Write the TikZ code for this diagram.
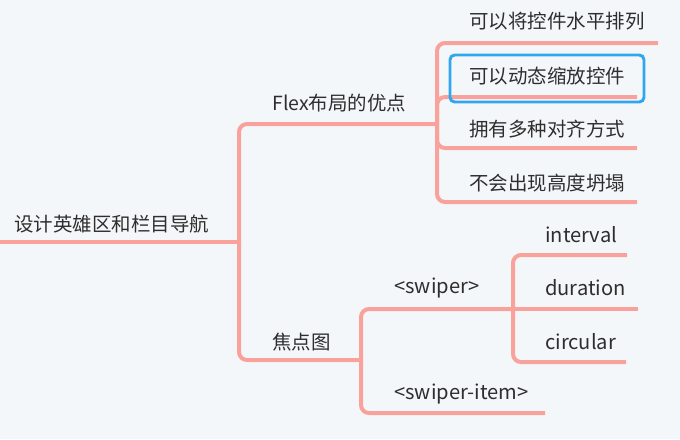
\documentclass[tikz,border=0pt]{standalone}
\usepackage{fontspec}
\setmainfont{Noto Sans CJK SC}
\begin{document}
\begin{tikzpicture}[x=0.75pt,y=-0.75pt,
  branch/.style={draw=linkc, line width=3pt, rounded corners=6pt},
  topic/.style={anchor=west, inner sep=0pt, text=textc, font=\fontsize{14.6}{17}\selectfont},
  latin/.style={topic, font=\fontsize{15.1}{18}\selectfont},
  highlight/.style={draw=selc, line width=2.2pt, rounded corners=3.5pt}]
\definecolor{bgc}{HTML}{F4F7F9}
\definecolor{linkc}{HTML}{F9A29B}
\definecolor{textc}{HTML}{2E2E2E}
\definecolor{selc}{HTML}{2EA7EE}
\fill[bgc] (0,0) rectangle (680,439);
\useasboundingbox (0,0) rectangle (680,439);

% junction points of the branches
\coordinate (rootStart) at (0,242);
\coordinate (rootEnd) at (239,242);
\coordinate (flexEnd) at (437,124);
\coordinate (focusEnd) at (361,360);
\coordinate (swEnd) at (513,309);
\coordinate (swiEnd) at (545,413);
\coordinate (f1End) at (658,43);
\coordinate (f2End) at (637,97);
\coordinate (f3End) at (637,148);
\coordinate (f4End) at (637,202);
\coordinate (s1End) at (627,255);
\coordinate (s2End) at (638,309);
\coordinate (s3End) at (626,362);

% connectors
\draw[branch] (rootStart) -- (rootEnd);
\draw[branch] (rootEnd) |- (flexEnd);
\draw[branch] (rootEnd) |- (focusEnd);
\draw[branch] (flexEnd) |- (f1End);
\draw[branch] (flexEnd) |- (f2End);
\draw[branch] (flexEnd) |- (f3End);
\draw[branch] (flexEnd) |- (f4End);
\draw[branch] (focusEnd) |- (swEnd);
\draw[branch] (focusEnd) |- (swiEnd);
\draw[branch] (swEnd) |- (s1End);
\draw[branch] (swEnd) -- (s2End);
\draw[branch] (swEnd) |- (s3End);

% topics
\node[topic] (root) at (14,224) {设计英雄区和栏目导航};
\node[topic] (flex) at (272,103) {Flex布局的优点};
\node[topic] (f1) at (469,21) {可以将控件水平排列};
\node[topic] (f2) at (469,76) {可以动态缩放控件};
\node[topic] (f3) at (469,129) {拥有多种对齐方式};
\node[topic] (f4) at (469,183) {不会出现高度坍塌};
\node[topic] (focus) at (272,342) {焦点图};
\node[latin] (swiper) at (394,288) {<swiper>};
\node[latin] (swiperitem) at (394,394) {<swiper-item>};
\node[latin] (s1) at (545,235) {interval};
\node[latin] (s2) at (545,288) {duration};
\node[latin] (s3) at (545,342) {circular};

% selection frame round the second Flex topic
\draw[highlight] (450,55) rectangle (644,102);
\end{tikzpicture}
\end{document}
